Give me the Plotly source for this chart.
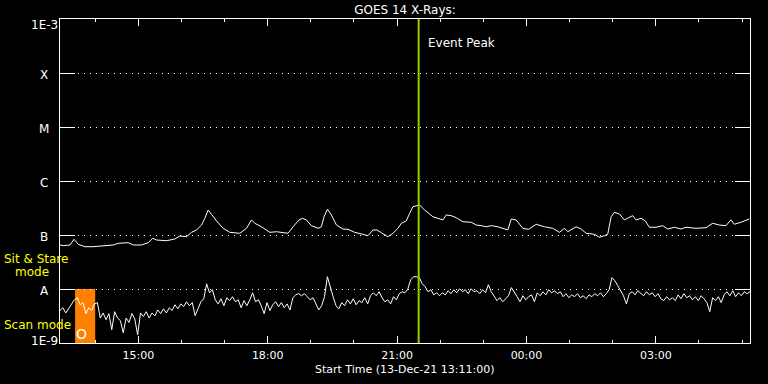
import math
import pandas as pd
import plotly.graph_objects as go

# ---------------- data ----------------
start_time = "2021-12-13 13:11:00"
span_hours = 16
title_text = "GOES 14 X-Rays:"
x_title = "Start Time (13-Dec-21 13:11:00)"

# long channel (1-8 A): minutes after start, flux in units of 1e-8 W/m^2
long_t_min = [0, 4.6, 13.9, 19.5, 25.4, 34.7, 45.9, 64.9, 74.1, 81.0, 94.9, 101.9, 113.5, 122.7,
              128.8, 134.4, 148.3, 159.8, 166.8, 176.1, 183.0, 190.0, 196.9, 201.5, 206.1, 210.8,
              217.8, 227.0, 236.3, 250.2, 259.5, 266.4, 271.0, 280.3, 291.9, 301.2, 317.3, 324.2,
              332.6, 337.3, 342.9, 349.8, 359.0, 363.7, 367.3, 372.1, 377.6, 384.6, 393.7, 400.7,
              410.0, 421.5, 428.5, 435.4, 441.0, 447.1, 456.3, 463.2, 470.2, 474.9, 481.8, 486.4,
              491.0, 500.3, 507.3, 518.8, 532.7, 537.4, 544.4, 551.3, 560.5, 572.2, 579.1, 586.1,
              593.0, 600.0, 609.2, 623.1, 627.8, 634.7, 643.9, 652.2, 662.5, 674.1, 685.6, 694.9,
              701.9, 706.5, 718.1, 725.1, 732.0, 743.5, 750.5, 757.4, 762.0, 766.8, 771.3, 778.3,
              785.2, 789.8, 796.8, 801.5, 808.5, 814.4, 820.0, 829.3, 838.5, 845.4, 854.7, 864.0,
              871.0, 884.9, 898.8, 908.0, 917.3, 926.6, 933.5, 938.1, 947.4, 959.0]
long_flux_e8 = [6.53, 6.34, 6.53, 8.33, 6.73, 6.07, 6.07, 6.26, 6.53, 7.02, 7.20, 6.53, 6.53, 7.20,
                8.69, 8.08, 7.84, 8.43, 9.58, 9.30, 11.2, 12.4, 15.3, 20.4, 29.0, 24.2,
                18.2, 13.3, 11.2, 10.75, 13.3, 19.0, 16.5, 14.2, 11.2, 11.5, 10.75, 14.2,
                19.0, 20.4, 19.0, 14.9, 13.3, 14.2, 21.8, 29.9, 23.5, 15.3, 12.9, 12.75,
                11.2, 10.3, 9.7, 12.4, 12.4, 11.0, 9.30, 10.75, 13.3, 16.5, 18.2, 25.2,
                33.4, 35.9, 29.0, 21.8, 19.0, 23.5, 22.8, 20.9, 17.6, 17.2, 15.3, 14.9,
                14.2, 14.9, 14.2, 12.4, 19.8, 19.0, 13.3, 12.75, 15.8, 14.2, 13.3, 11.2,
                13.3, 11.5, 14.2, 12.9, 10.75, 10.3, 9.07, 9.7, 10.3, 21.8, 26.3, 24.5,
                19.0, 20.4, 22.8, 19.0, 20.4, 18.2, 13.9, 13.9, 14.9, 12.9, 13.9, 12.9,
                13.9, 13.3, 13.65, 16.5, 15.3, 14.9, 19.0, 15.8, 17.2, 19.8]

# short channel (0.5-4 A): one sample every 4 minutes, flux in units of 1e-9 W/m^2
short_step_min = 4
short_flux_e9 = [4.0, 4.5, 3.6, 4.3, 5.3, 6.3, 6.9, 5.1, 5.6, 3.5, 4.5, 4.0, 5.3, 5.6, 2.9, 3.6,
                 2.7, 3.5, 1.76, 3.8, 2.9, 2.6, 1.55, 2.9, 2.4, 3.5, 2.8, 1.42, 3.6, 3.1, 3.8, 2.9,
                 3.6, 3.2, 4.1, 3.5, 4.3, 3.6, 4.5, 4.0, 5.1, 4.3, 5.3, 4.7, 5.8, 4.9, 5.6, 3.2,
                 4.3, 5.8, 6.6, 12.5, 8.5, 9.7, 6.3, 5.3, 6.6, 4.9, 6.9, 6.1, 7.2, 5.8, 6.3, 4.5,
                 6.1, 4.9, 6.3, 8.5, 5.8, 6.3, 4.9, 3.5, 5.6, 4.0, 5.1, 5.8, 4.7, 5.6, 4.5, 5.3,
                 4.1, 6.9, 7.8, 8.2, 7.5, 8.2, 7.2, 6.3, 6.9, 5.1, 4.1, 4.9, 7.2, 16.9, 10.6, 7.2,
                 4.9, 4.3, 5.6, 4.9, 6.3, 5.3, 6.6, 5.1, 6.1, 5.6, 6.9, 5.3, 7.5, 8.5, 7.5, 8.9,
                 6.9, 5.8, 6.3, 5.3, 7.2, 6.3, 8.2, 8.9, 8.5, 10.1, 14.9, 16.9, 16.9, 16.2, 12.5, 11.0,
                 8.9, 9.7, 7.8, 8.5, 7.5, 8.5, 7.8, 9.3, 8.2, 9.7, 8.5, 10.1, 8.9, 9.7, 8.2, 10.1,
                 8.9, 9.3, 8.2, 9.7, 8.5, 12.0, 8.9, 7.2, 6.1, 6.9, 5.8, 6.6, 7.5, 10.6, 8.9, 7.2,
                 5.8, 7.5, 6.3, 7.2, 7.8, 5.8, 8.5, 7.5, 8.9, 7.8, 9.7, 8.5, 9.3, 8.2, 8.9, 7.2,
                 8.2, 6.9, 7.8, 7.2, 8.2, 6.9, 7.5, 6.6, 7.8, 7.2, 8.2, 7.5, 8.5, 7.2, 8.2, 9.7,
                 16.2, 14.2, 11.5, 9.3, 7.5, 5.3, 8.2, 8.9, 7.8, 9.3, 8.2, 7.5, 8.9, 7.8, 8.5, 7.2,
                 8.2, 6.6, 6.1, 7.2, 6.3, 6.9, 6.1, 7.8, 6.6, 8.2, 6.9, 7.5, 6.3, 7.2, 6.1, 7.5,
                 6.6, 5.6, 3.8, 6.9, 6.1, 7.2, 5.6, 7.8, 8.9, 7.5, 9.3, 7.2, 8.5, 7.5, 8.9, 8.2,
                 8.9]

# axis ticks
y_tick_vals = [1e-9, 1e-8, 1e-7, 1e-6, 1e-5, 1e-4, 1e-3]
y_tick_text = ["1E-9", "A", "B", "C", "M", "X", "1E-3"]
x_major_tick0 = "2021-12-13 15:00"
x_minor_tick0 = "2021-12-13 13:00"

# events / annotations
event_peak_time = "2021-12-13 21:30"
event_label = "Event Peak"
scan_start = "2021-12-13 13:32"
scan_end = "2021-12-13 14:00"
scan_band = [1e-9, 1e-8]
scan_label = "O"
mode_labels = ["Sit & Stare", "mode", "Scan mode"]

# ---------------- figure ----------------
t0 = pd.Timestamp(start_time)
long_x = [t0 + pd.Timedelta(minutes=m) for m in long_t_min]
long_y = [v * 1e-8 for v in long_flux_e8]
short_x = [t0 + pd.Timedelta(minutes=short_step_min * i) for i in range(len(short_flux_e9))]
short_y = [v * 1e-9 for v in short_flux_e9]

FONT = "DejaVu Sans"
fig = go.Figure()
fig.add_trace(go.Scatter(x=long_x, y=long_y, mode="lines",
                         line=dict(color="white", width=1), showlegend=False))
fig.add_trace(go.Scatter(x=short_x, y=short_y, mode="lines",
                         line=dict(color="white", width=1), showlegend=False))

x_end = t0 + pd.Timedelta(hours=span_hours)
PLOT_W, PLOT_H = 690, 324

fig.update_layout(
    width=768, height=384,
    margin=dict(l=60, r=18, t=19, b=41, autoexpand=False),
    paper_bgcolor="black", plot_bgcolor="black",
    font=dict(family=FONT, size=12, color="white"),
    title=dict(text=title_text, x=0.5, xref="paper", xanchor="center",
               y=1 - 9.5 / 384, yref="container", yanchor="middle",
               font=dict(family=FONT, size=12, color="white")),
    xaxis=dict(type="date", range=[t0, x_end], automargin=False,
               showline=True, linecolor="white", linewidth=1, mirror="ticks",
               ticks="inside", ticklen=7, tickcolor="white", tickwidth=1,
               tickmode="linear", tick0=x_major_tick0, dtick=3 * 3600000,
               tickformat="%H:%M", tickfont=dict(family=FONT, size=11, color="white"),
               ticklabelstandoff=2,
               minor=dict(tickmode="linear", tick0=x_minor_tick0, dtick=3600000,
                          ticks="inside", ticklen=3, tickcolor="white", showgrid=False),
               showgrid=False, zeroline=False),
    yaxis=dict(type="log", range=[-9, -3], automargin=False,
               showline=True, linecolor="white", linewidth=1, mirror="ticks",
               ticks="inside", ticklen=15, tickcolor="white", tickwidth=1,
               tickmode="array", tickvals=y_tick_vals, showticklabels=False,
               showgrid=True, gridcolor="white", gridwidth=1, griddash="1px,5px",
               zeroline=False),
)

# x-axis title
fig.add_annotation(x=0.5, xref="paper", y=-(369 - 343) / PLOT_H, yref="paper",
                   text=x_title, showarrow=False, xanchor="center", yanchor="middle",
                   font=dict(family=FONT, size=11, color="white"))

# y tick labels centred left of the axis
for v, txt in zip(y_tick_vals, y_tick_text):
    shift = -2
    if v == y_tick_vals[-1]:
        shift = -6
    elif v == y_tick_vals[0]:
        shift = 2
    fig.add_annotation(x=(44 - 60) / PLOT_W, xref="paper", y=math.log10(v), yref="y",
                       text=txt, showarrow=False, xanchor="center", yanchor="middle",
                       yshift=shift, font=dict(family=FONT, size=12, color="white"))

# scan-mode box
fig.add_shape(type="rect", x0=scan_start, x1=scan_end, y0=scan_band[0], y1=scan_band[1],
              xref="x", yref="y", fillcolor="#FF8000", line=dict(width=0), layer="below")
fig.add_annotation(x=pd.Timestamp(scan_start) + (pd.Timestamp(scan_end) - pd.Timestamp(scan_start)) / 3,
                   y=-8.806, xref="x", yref="y", text=scan_label, showarrow=False, yshift=-1.5,
                   font=dict(family=FONT, size=14, color="white"))

# event peak line and label
fig.add_shape(type="line", x0=event_peak_time, x1=event_peak_time, y0=0, y1=1,
              xref="x", yref="paper", line=dict(color="#99CC00", width=2))
fig.add_annotation(x=event_peak_time, y=-3.444, xref="x", yref="y", text=event_label,
                   showarrow=False, xanchor="left", xshift=7,
                   font=dict(family=FONT, size=12, color="white"))

# instrument-mode labels
mode_pos = [((2 - 60) / PLOT_W, -7.426), ((13 - 60) / PLOT_W, -7.667), ((2 - 60) / PLOT_W, -8.648)]
for txt, (px, py) in zip(mode_labels, mode_pos):
    fig.add_annotation(x=px, xref="paper", y=py, yref="y", text=txt, showarrow=False,
                       xanchor="left", yanchor="middle", yshift=-1,
                       font=dict(family=FONT, size=12, color="#FFFF00"))

fig.write_html("out.html")
